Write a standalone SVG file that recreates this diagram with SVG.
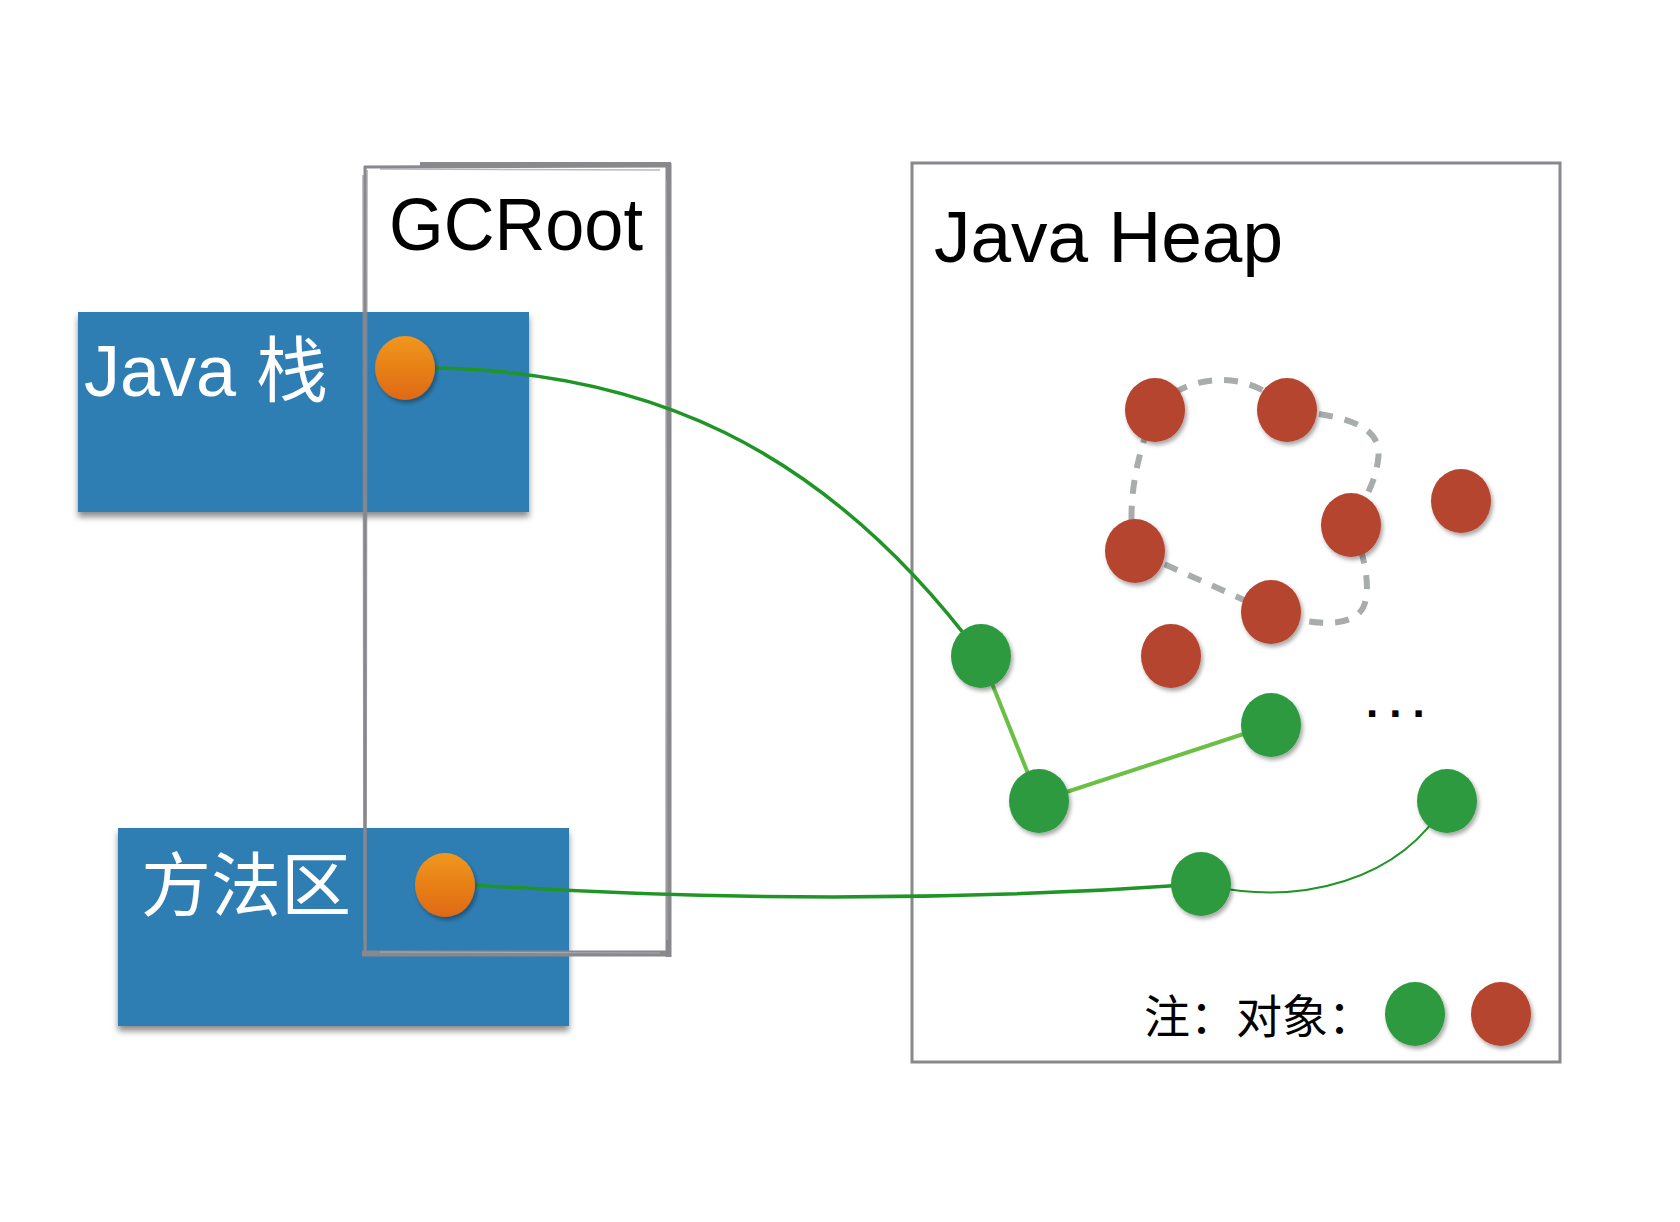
<svg xmlns="http://www.w3.org/2000/svg" width="1680" height="1222" viewBox="0 0 1680 1222">
<style>
.blue{fill:#2f7eb4;filter:url(#boxShadow)}
.lbl-w{fill:#ffffff;font-family:"Liberation Sans","Noto Sans CJK SC",sans-serif}
.lbl-b{fill:#000000;font-family:"Liberation Sans","Noto Sans CJK SC",sans-serif}
.red{fill:#b5452f;filter:url(#dotShadow)}
.green{fill:#2f9a40;filter:url(#dotShadow)}
.orange{fill:url(#orangeGrad);filter:url(#dotShadow)}
.sketch{fill:none;stroke:#88888d}
.conn-dark{fill:none;stroke:#1f9526;stroke-linecap:round}
.conn-light{fill:none;stroke:#6cbf45;stroke-width:4;stroke-linecap:round}
</style>
<defs>
<linearGradient id="orangeGrad" x1="0" y1="0" x2="0" y2="1">
<stop offset="0" stop-color="#f0971e"/>
<stop offset="1" stop-color="#df6912"/>
</linearGradient>
<filter id="boxShadow" x="-5%" y="-5%" width="110%" height="115%">
<feDropShadow dx="0" dy="5" stdDeviation="3" flood-color="#000" flood-opacity="0.45"/>
</filter>
<filter id="dotShadow" x="-30%" y="-30%" width="160%" height="160%">
<feDropShadow dx="2" dy="3" stdDeviation="2" flood-color="#000" flood-opacity="0.35"/>
</filter>
</defs>
<rect width="1680" height="1222" fill="#ffffff"/>

<g id="java-stack">
<rect class="blue" x="78" y="312" width="451" height="200"/>
<text class="lbl-w" x="84" y="396" font-size="72">Java 栈</text>
</g>
<g id="method-area">
<rect class="blue" x="118" y="828" width="451" height="198"/>
<text class="lbl-w" x="141" y="911" font-size="70">方法区</text>
</g>

<g id="gcroot">
<path class="sketch" d="M365,166 L365,952" stroke-width="3"/>
<path class="sketch" d="M367,170 L366,950 M363,175 L364,940" stroke-width="1.5" opacity="0.7"/>
<path class="sketch" d="M364,167 L668,166" stroke-width="3"/>
<path class="sketch" d="M420,164 L671,164" stroke-width="4"/>
<path class="sketch" d="M380,169 L660,170" stroke-width="1.5" opacity="0.6"/>
<path class="sketch" d="M668.5,163 L668.5,957" stroke-width="6"/>
<path class="sketch" d="M362,953.5 L671,953.5" stroke-width="6"/>
<path d="M666,180 L667,940 M380,952 L660,953" fill="none" stroke="#b4b4b8" stroke-width="1" opacity="0.8"/>
<text class="lbl-b" x="389" y="250" font-size="74" textLength="254" lengthAdjust="spacingAndGlyphs">GCRoot</text>
</g>

<g id="java-heap">
<rect x="912" y="163" width="648" height="899" fill="none" stroke="#88888d" stroke-width="3"/>
<text class="lbl-b" x="934" y="262" font-size="73">Java Heap</text>
</g>

<g id="connectors">
<path id="cycle" d="M1155,410 C1185,372 1252,368 1287,410 C1330,415 1385,420 1378,460 C1376,480 1365,500 1351,525 C1368,560 1372,600 1360,612 C1345,628 1310,625 1271,612 L1135,551 C1128,520 1130,470 1155,410 Z" fill="none" stroke="#a9acac" stroke-width="6" stroke-dasharray="14 12"/>
<path d="M436,368 C640,372 820,440 981,656" class="conn-dark" stroke-width="3.5"/>
<path d="M981,656 L1039,801" class="conn-light"/>
<path d="M1039,801 L1271,725" class="conn-light"/>
<path d="M475,885 C700,900 950,902 1201,884" class="conn-dark" stroke-width="3.5"/>
<path d="M1210,886 C1300,905 1400,882 1447,801" class="conn-dark" stroke-width="2"/>
</g>

<g id="gcroot-stack"><ellipse class="orange" cx="405" cy="368" rx="30" ry="32"/></g>
<g id="gcroot-method"><ellipse class="orange" cx="445" cy="885" rx="30" ry="32"/></g>

<g id="red-1"><ellipse class="red" cx="1155" cy="410" rx="30" ry="32"/></g>
<g id="red-2"><ellipse class="red" cx="1287" cy="410" rx="30" ry="32"/></g>
<g id="red-3"><ellipse class="red" cx="1461" cy="501" rx="30" ry="32"/></g>
<g id="red-4"><ellipse class="red" cx="1351" cy="525" rx="30" ry="32"/></g>
<g id="red-5"><ellipse class="red" cx="1135" cy="551" rx="30" ry="32"/></g>
<g id="red-6"><ellipse class="red" cx="1271" cy="612" rx="30" ry="32"/></g>
<g id="red-7"><ellipse class="red" cx="1171" cy="656" rx="30" ry="32"/></g>

<g id="green-1"><ellipse class="green" cx="981" cy="656" rx="30" ry="32"/></g>
<g id="green-2"><ellipse class="green" cx="1039" cy="801" rx="30" ry="32"/></g>
<g id="green-3"><ellipse class="green" cx="1271" cy="725" rx="30" ry="32"/></g>
<g id="green-4"><ellipse class="green" cx="1447" cy="801" rx="30" ry="32"/></g>
<g id="green-5"><ellipse class="green" cx="1201" cy="884" rx="30" ry="32"/></g>

<g id="ellipsis"><text class="lbl-b" x="1366" y="717" font-size="44" font-weight="bold" letter-spacing="11">...</text></g>

<g id="legend">
<text class="lbl-b" x="1144" y="1033" font-size="46">注：对象：</text>
<ellipse class="green" cx="1415" cy="1014" rx="30" ry="32"/>
<ellipse class="red" cx="1501" cy="1014" rx="30" ry="32"/>
</g>
</svg>
